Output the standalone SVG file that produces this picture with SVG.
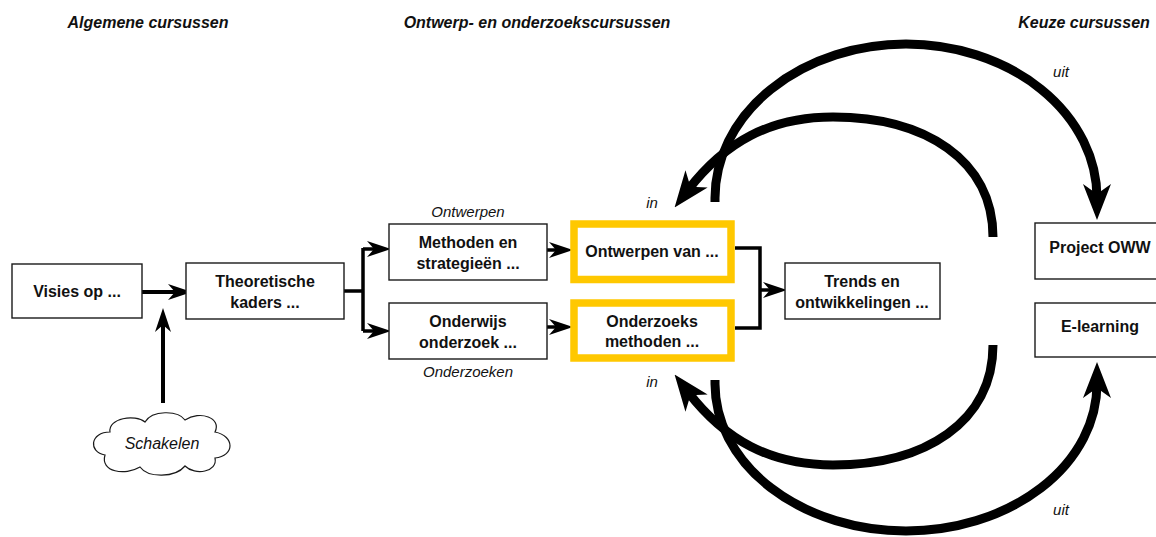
<svg xmlns="http://www.w3.org/2000/svg" width="1156" height="537" viewBox="0 0 1156 537">
<style>
.box{fill:#fff;stroke:#1a1a1a;stroke-width:1.4}
.hl{fill:#fff;stroke:#FFC800;stroke-width:7.5}
.t{font-family:"Liberation Sans",Arial,sans-serif;font-weight:bold;font-size:16px;fill:#111;text-anchor:middle}
.h{font-family:"Liberation Sans",Arial,sans-serif;font-weight:bold;font-style:italic;font-size:16px;fill:#111;text-anchor:middle}
.i{font-family:"Liberation Sans",Arial,sans-serif;font-style:italic;font-size:15px;fill:#111;text-anchor:middle}
.c{fill:none;stroke:#000;stroke-width:3.5}
.big{fill:none;stroke:#000;stroke-width:9}
</style>
<defs>
<marker id="sa" viewBox="0 0 24 16" refX="10" refY="8" markerWidth="24" markerHeight="16" markerUnits="userSpaceOnUse" orient="auto">
<path d="M0,0 L24,8 L0,16 L7,8 Z" fill="#000"/>
</marker>
<marker id="ba" viewBox="0 0 36 28" refX="14" refY="14" markerWidth="36" markerHeight="28" markerUnits="userSpaceOnUse" orient="auto">
<path d="M0,0 L36,14 L0,28 L10,14 Z" fill="#000"/>
</marker>
</defs>
<rect width="1156" height="537" fill="#fff"/>

<g id="headers">
<text class="h" x="148" y="28">Algemene cursussen</text>
<text class="h" x="537" y="28">Ontwerp- en onderzoekscursussen</text>
<text class="h" x="1084" y="28">Keuze cursussen</text>
</g>

<g id="connectors">
<path class="c" style="stroke-width:4" d="M142,292 H178" marker-end="url(#sa)"/>
<path class="c" style="stroke-width:4" d="M163,403 V322" marker-end="url(#sa)"/>
<path class="c" d="M344,291 H363 M363,248 V331"/>
<path class="c" d="M363,249 H377" marker-end="url(#sa)"/>
<path class="c" d="M363,331 H377" marker-end="url(#sa)"/>
<path class="c" d="M547,250 H559" marker-end="url(#sa)"/>
<path class="c" d="M547,327 H559" marker-end="url(#sa)"/>
<path class="c" d="M735,248 H760 V328 H735"/>
<path class="c" d="M760,290 H773" marker-end="url(#sa)"/>
<path class="big" d="M715,202 L715,198 A191,154 0 0 1 1097,198" marker-end="url(#ba)"/>
<path class="big" d="M993,237 C993,160 925,117 833,117 C770,117 725,142 688,190" marker-end="url(#ba)"/>
<path class="big" d="M993,345 C993,422 925,465 833,465 C770,465 725,440 688,392" marker-end="url(#ba)"/>
<path class="big" d="M715,380 L715,384 A191,147 0 0 0 1097,384" marker-end="url(#ba)"/>
<text class="i" x="1061" y="77">uit</text>
<text class="i" x="1061" y="515">uit</text>
<text class="i" x="652" y="208">in</text>
<text class="i" x="652" y="387">in</text>
</g>

<g id="visies">
<rect class="box" x="12" y="264" width="130" height="54"/>
<text class="t" x="77" y="297">Visies op ...</text>
</g>

<g id="theoretische">
<rect class="box" x="186" y="263" width="158" height="56"/>
<text class="t" x="265" y="287">Theoretische</text>
<text class="t" x="265" y="308">kaders ...</text>
</g>

<g id="schakelen">
<path d="M105,455 C88,452 90,432 110,432 C108,418 135,414 145,422 C152,410 178,410 185,420 C200,410 222,418 215,432 C235,436 235,456 215,458 C218,472 195,476 185,466 C175,478 148,478 140,467 C125,476 100,472 105,455 Z" fill="#fff" stroke="#1a1a1a" stroke-width="1.2"/>
<text class="i" style="font-size:16px" x="162" y="449">Schakelen</text>
</g>

<g id="methoden">
<text class="i" x="468" y="217">Ontwerpen</text>
<rect class="box" x="389" y="224" width="158" height="56"/>
<text class="t" x="468" y="248">Methoden en</text>
<text class="t" x="468" y="269">strategieën ...</text>
</g>

<g id="onderwijs">
<rect class="box" x="389" y="303" width="158" height="56"/>
<text class="t" x="468" y="327">Onderwijs</text>
<text class="t" x="468" y="348">onderzoek ...</text>
<text class="i" x="468" y="377">Onderzoeken</text>
</g>

<g id="ontwerpen">
<rect class="hl" x="574" y="224" width="157" height="55.5"/>
<text class="t" x="652" y="257">Ontwerpen van ...</text>
</g>

<g id="onderzoeks">
<rect class="hl" x="574" y="303" width="157" height="55"/>
<text class="t" x="652" y="327">Onderzoeks</text>
<text class="t" x="652" y="347">methoden ...</text>
</g>

<g id="trends">
<rect class="box" x="785" y="263" width="155" height="56"/>
<text class="t" x="862" y="287">Trends en</text>
<text class="t" x="862" y="308">ontwikkelingen ...</text>
</g>

<g id="project">
<rect class="box" x="1035" y="223" width="140" height="56"/>
<text class="t" x="1100" y="253">Project OWW</text>
</g>

<g id="elearning">
<rect class="box" x="1035" y="303" width="140" height="54"/>
<text class="t" x="1100" y="332">E-learning</text>
</g>
</svg>
